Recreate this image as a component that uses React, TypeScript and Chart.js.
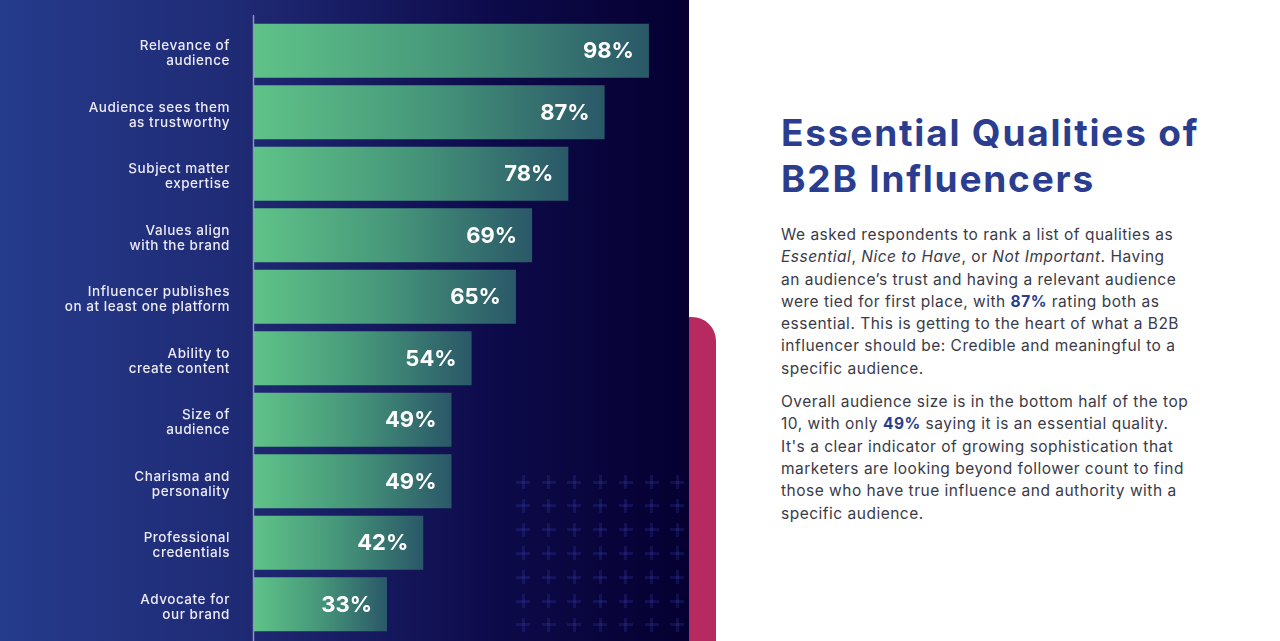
import React, { useEffect, useRef } from 'react';
import { Chart, registerables } from 'chart.js';

Chart.register(...registerables);

const categories: string[][] = [
  ['Relevance of', 'audience'],
  ['Audience sees them', 'as trustworthy'],
  ['Subject matter', 'expertise'],
  ['Values align', 'with the brand'],
  ['Influencer publishes', 'on at least one platform'],
  ['Ability to', 'create content'],
  ['Size of', 'audience'],
  ['Charisma and', 'personality'],
  ['Professional', 'credentials'],
  ['Advocate for', 'our brand'],
];

const values: number[] = [98, 87, 78, 69, 65, 54, 49, 49, 42, 33];

const axisMin = 0;
const axisMax = 100;

const FONT = 'Inter, "Open Sans", sans-serif';

const valueLabelPlugin = {
  id: 'valueLabels',
  beforeDraw(chart: any) {
    (chart.ctx as any).letterSpacing = '0.55px';
  },
  afterDatasetsDraw(chart: any) {
    const ctx = chart.ctx;
    const meta = chart.getDatasetMeta(0);
    ctx.save();
    (ctx as any).letterSpacing = '0px';
    ctx.fillStyle = '#ffffff';
    ctx.font = `700 22px ${FONT}`;
    ctx.textAlign = 'right';
    ctx.textBaseline = 'middle';
    meta.data.forEach((el: any, i: number) => {
      ctx.fillText(`${values[i]}%`, el.x - 15, el.y + 1);
    });
    ctx.restore();
  },
  afterDraw(chart: any) {
    const ctx = chart.ctx;
    const x = chart.chartArea.left - 0.5;
    ctx.save();
    ctx.strokeStyle = 'rgba(165,165,210,0.85)';
    ctx.lineWidth = 1.5;
    ctx.beginPath();
    ctx.moveTo(x, 15);
    ctx.lineTo(x, chart.height);
    ctx.stroke();
    ctx.restore();
  },
};

function barGradient(context: any) {
  const chart = context.chart;
  const area = chart.chartArea;
  if (!area || context.raw == null) return '#4fa47e';
  const xs = chart.scales.x;
  const x0 = xs.getPixelForValue(0);
  const x1 = xs.getPixelForValue(context.raw);
  if (!isFinite(x0) || !isFinite(x1) || x1 <= x0) return '#4fa47e';
  const g = chart.ctx.createLinearGradient(x0, 0, x1, 0);
  g.addColorStop(0, '#5fc388');
  g.addColorStop(0.5, '#46967a');
  g.addColorStop(1, '#2a5868');
  return g;
}

function BarChart() {
  const ref = useRef<HTMLCanvasElement | null>(null);
  useEffect(() => {
    if (!ref.current) return;
    const chart = new Chart(ref.current, {
      type: 'bar',
      data: {
        labels: categories,
        datasets: [
          {
            data: values,
            backgroundColor: barGradient,
            borderWidth: 0,
            barPercentage: 0.88,
            categoryPercentage: 1,
          },
        ],
      },
      options: {
        indexAxis: 'y',
        animation: false,
        responsive: true,
        maintainAspectRatio: false,
        layout: { padding: { top: 20, bottom: 6, right: 32, left: 0 } },
        plugins: { legend: { display: false }, tooltip: { enabled: false } },
        scales: {
          x: { display: false, min: axisMin, max: axisMax },
          y: {
            afterFit: (scale: any) => {
              scale.width = 254;
              scale.paddingTop = 0;
              scale.paddingBottom = 0;
            },
            grid: { display: false, drawTicks: false },
            border: { display: false },
            ticks: {
              color: '#eceaf5',
              padding: 24,
              labelOffset: 3,
              font: { family: FONT, size: 13.5, weight: 500, lineHeight: 1.12 },
            },
          },
        },
      },
      plugins: [valueLabelPlugin],
    });
    return () => chart.destroy();
  }, []);
  return <canvas ref={ref} />;
}

export default function App() {
  const pluses: React.ReactNode[] = [];
  for (let r = 0; r < 7; r++) {
    for (let c = 0; c < 7; c++) {
      const cx = 523 + c * 25.7;
      const cy = 482 + r * 23.8;
      pluses.push(
        <React.Fragment key={`${r}-${c}`}>
          <div style={{ position: 'absolute', left: cx - 7, top: cy - 1.5, width: 14, height: 3, background: 'rgba(70,75,200,0.2)' }} />
          <div style={{ position: 'absolute', left: cx - 1.5, top: cy - 7, width: 3, height: 14, background: 'rgba(70,75,200,0.2)' }} />
        </React.Fragment>
      );
    }
  }
  const bold = { color: '#2b3d8f', fontWeight: 700 };
  return (
    <div style={{ position: 'fixed', left: 0, top: 0, width: 1280, height: 641, background: '#ffffff', overflow: 'hidden', fontFamily: FONT }}>
      <div style={{ position: 'absolute', left: 689, top: 317, width: 27, height: 330, background: '#b62a60', borderTopRightRadius: 24 }} />
      <div style={{ position: 'absolute', left: 0, top: 0, width: 689, height: 641, background: 'linear-gradient(90deg, #253b8c 0%, #1f2a74 35%, #0d0a4a 72%, #050030 100%)' }}>
        {pluses}
        <div style={{ position: 'absolute', left: 0, top: 0, width: 689, height: 641 }}>
          <BarChart />
        </div>
      </div>
      <div style={{ position: 'absolute', left: 781, top: 110, width: 490, color: '#2b3d8f', fontWeight: 700, fontSize: 37, lineHeight: '46px', letterSpacing: '1.8px' }}>
        Essential Qualities of
        <br />
        B2B Influencers
      </div>
      <div style={{ position: 'absolute', left: 781, top: 224, width: 490, color: '#3a3a48', fontSize: 15.5, lineHeight: '22.3px', letterSpacing: '0.5px' }}>
        <div>
          We asked respondents to rank a list of qualities as
          <br />
          <i>Essential</i>, <i>Nice to Have</i>, or <i>Not Important</i>. Having
          <br />
          an audience’s trust and having a relevant audience
          <br />
          were tied for first place, with <span style={bold}>87%</span> rating both as
          <br />
          essential. This is getting to the heart of what a B2B
          <br />
          influencer should be: Credible and meaningful to a
          <br />
          specific audience.
        </div>
        <div style={{ marginTop: 11 }}>
          Overall audience size is in the bottom half of the top
          <br />
          10, with only <span style={bold}>49%</span> saying it is an essential quality.
          <br />
          It's a clear indicator of growing sophistication that
          <br />
          marketers are looking beyond follower count to find
          <br />
          those who have true influence and authority with a
          <br />
          specific audience.
        </div>
      </div>
    </div>
  );
}
